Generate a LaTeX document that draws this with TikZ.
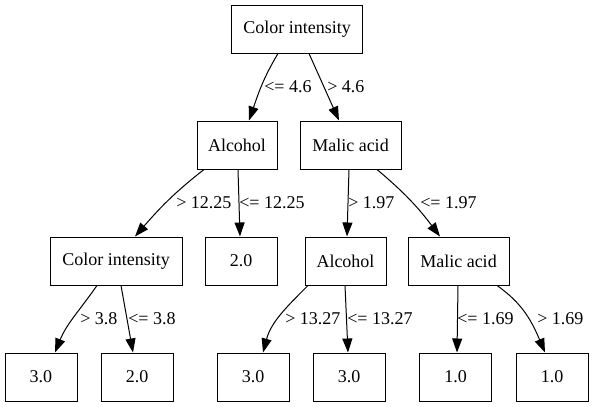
\documentclass[tikz,border=0pt]{standalone}
\usepackage{fontspec}
\setmainfont{Liberation Serif}
\usetikzlibrary{arrows.meta,calc}
\begin{document}
\begin{tikzpicture}[x=0.75pt,y=0.75pt,
  box/.style={draw,line width=0.75pt,rectangle,minimum height=36pt,inner sep=0pt,font=\fontsize{13.5}{16}\selectfont},
  lbl/.style={anchor=west,inner sep=0pt,font=\fontsize{13.5}{16}\selectfont},
  conn/.style={line width=0.75pt,-{Triangle[length=10.5pt,width=7.5pt]}}]
\useasboundingbox (0,0) rectangle (593,-407);
% internal nodes
\node[box,minimum width=98.25pt] (root) at (297,-29) {Color intensity};
\node[box,minimum width=60pt] (alc1) at (237,-145) {Alcohol};
\node[box,minimum width=75.75pt] (mal1) at (350.5,-145) {Malic acid};
\node[box,minimum width=99pt] (ci2) at (116,-261) {Color intensity};
\node[box,minimum width=54pt] (two1) at (241,-261) {2.0};
\node[box,minimum width=60.75pt] (alc2) at (345.5,-261) {Alcohol};
\node[box,minimum width=75.75pt] (mal2) at (458.5,-261) {Malic acid};
% leaves
\node[box,minimum width=54pt] (l1) at (41,-377) {3.0};
\node[box,minimum width=54pt] (l2) at (137,-377) {2.0};
\node[box,minimum width=54pt] (l3) at (253,-377) {3.0};
\node[box,minimum width=54pt] (l4) at (349,-377) {3.0};
\node[box,minimum width=54pt] (l5) at (455.5,-377) {1.0};
\node[box,minimum width=54pt] (l6) at (552,-377) {1.0};
% edges
\draw[conn] ($(root.south)+(-19,0)$) to[out=-121,in=71] ($(alc1.north)+(12,0)$);
\draw[conn] ($(root.south)+(12,0)$) -- ($(mal1.north)+(-11.5,0)$);
\draw[conn] ($(alc1.south)+(-33,0)$) to[out=-142,in=49] ($(ci2.north)+(19,0)$);
\draw[conn] ($(alc1.south)+(1,0)$) -- ($(two1.north)+(-1,0)$);
\draw[conn] ($(mal1.south)+(-1.5,0)$) -- ($(alc2.north)+(1.5,0)$);
\draw[conn] ($(mal1.south)+(26.5,0)$) to[out=-40,in=127] ($(mal2.north)+(-18.5,0)$);
\draw[conn] ($(ci2.south)+(-19,0)$) to[out=-125,in=68] ($(l1.north)+(14,0)$);
\draw[conn] ($(ci2.south)+(5,0)$) -- ($(l2.north)+(-4,0)$);
\draw[conn] ($(alc2.south)+(-37.5,0)$) to[out=-135,in=75] ($(l3.north)+(10,0)$);
\draw[conn] ($(alc2.south)+(-0.5,0)$) -- ($(l4.north)+(-1,0)$);
\draw[conn] ($(mal2.south)+(-0.5,0)$) -- ($(l5.north)+(1.5,0)$);
\draw[conn] ($(mal2.south)+(38.5,0)$) to[out=-35,in=113] ($(l6.north)+(-7,0)$);
% edge labels
\node[lbl] (e1) at (264,-87) {<= 4.6};
\node[lbl] (e2) at (327,-87) {> 4.6};
\node[lbl] (e3) at (176,-203) {> 12.25};
\node[lbl] (e4) at (239,-203) {<= 12.25};
\node[lbl] (e5) at (348,-203) {> 1.97};
\node[lbl] (e6) at (420,-203) {<= 1.97};
\node[lbl] (e7) at (80,-319) {> 3.8};
\node[lbl] (e8) at (128,-319) {<= 3.8};
\node[lbl] (e9) at (285,-319) {> 13.27};
\node[lbl] (e10) at (347,-319) {<= 13.27};
\node[lbl] (e11) at (457,-319) {<= 1.69};
\node[lbl] (e12) at (537,-319) {> 1.69};
\end{tikzpicture}
\end{document}
